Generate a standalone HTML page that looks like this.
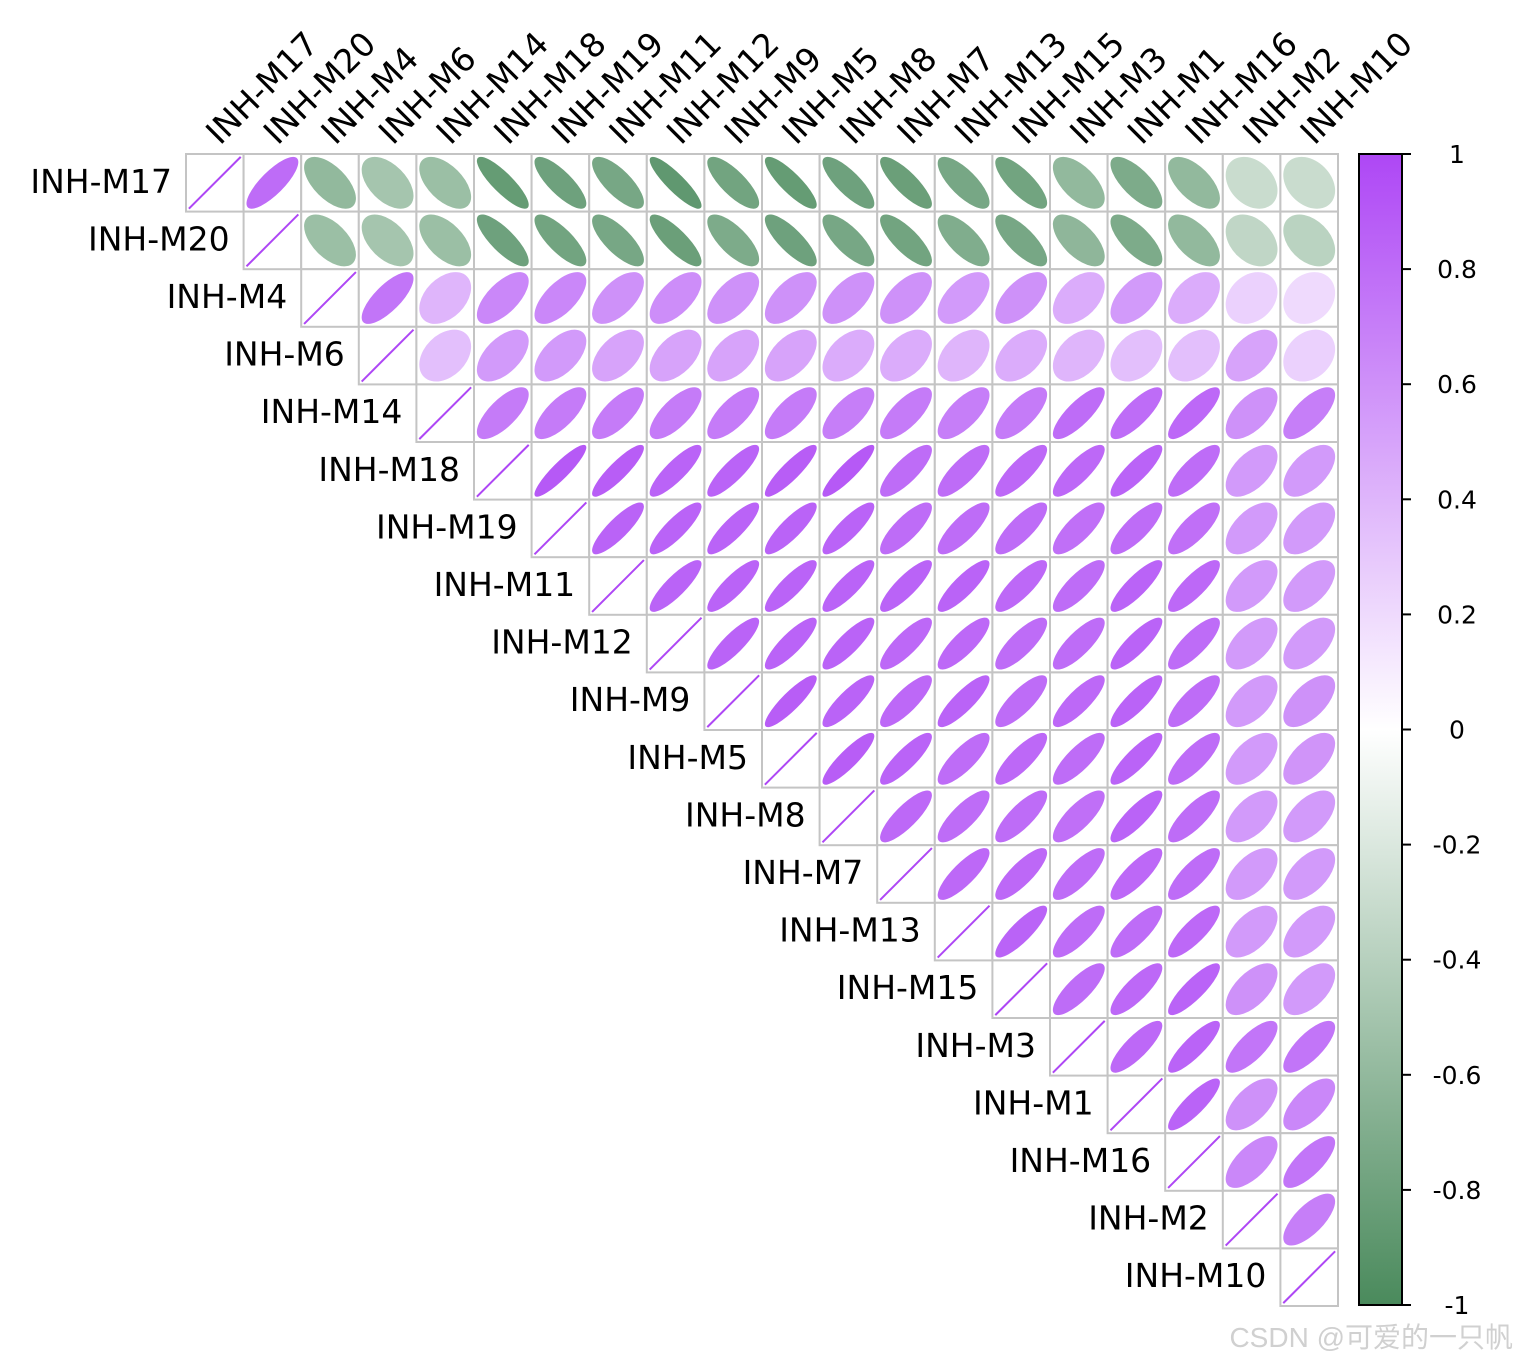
<!DOCTYPE html>
<html><head><meta charset="utf-8"><style>
html,body{margin:0;padding:0;background:#fff;}
svg{display:block;font-family:"DejaVu Sans","Liberation Sans","Noto Sans CJK SC",sans-serif;}
</style></head><body>
<svg id="chart" width="1518" height="1364" viewBox="0 0 1518 1364" xmlns="http://www.w3.org/2000/svg">
<rect width="1518" height="1364" fill="#fff"/>
<defs>
<linearGradient id="cbgrad" x1="0" y1="1" x2="0" y2="0">
<stop offset="0" stop-color="#4a8a5c"/>
<stop offset="0.5" stop-color="#ffffff"/>
<stop offset="1" stop-color="#ae47f5"/>
</linearGradient>
</defs>
<g id="cells"></g>
<g id="labels"></g>
<g id="colorbar"></g>
<text x="1513" y="1347" text-anchor="end" font-size="28" fill="#d0d0d0" font-family="'Liberation Sans','Noto Sans CJK SC',sans-serif">CSDN @可爱的一只帆</text>
</svg>
<script>
const labels = ["INH-M17","INH-M20","INH-M4","INH-M6","INH-M14","INH-M18","INH-M19","INH-M11","INH-M12","INH-M9","INH-M5","INH-M8","INH-M7","INH-M13","INH-M15","INH-M3","INH-M1","INH-M16","INH-M2","INH-M10"];
// upper-triangle rows (values from the diagonal+1 onwards)
const row0 = [0.8,-0.6,-0.5,-0.55,-0.85,-0.8,-0.75,-0.88,-0.78,-0.85,-0.8,-0.82,-0.75,-0.78,-0.6,-0.72,-0.6,-0.3,-0.3];
const row1 = [-0.55,-0.5,-0.55,-0.8,-0.78,-0.75,-0.82,-0.72,-0.8,-0.75,-0.78,-0.7,-0.75,-0.62,-0.72,-0.6,-0.35,-0.38];
const row2 = [0.75,0.4,0.65,0.65,0.6,0.62,0.6,0.6,0.6,0.6,0.55,0.6,0.45,0.55,0.45,0.25,0.2];
const row3 = [0.35,0.55,0.55,0.5,0.5,0.5,0.5,0.45,0.45,0.4,0.45,0.4,0.35,0.35,0.5,0.25];
const row4 = [0.72,0.72,0.72,0.72,0.72,0.72,0.7,0.72,0.7,0.72,0.8,0.8,0.82,0.6,0.7];
const row5 = [0.9,0.88,0.85,0.85,0.88,0.9,0.8,0.8,0.82,0.82,0.85,0.8,0.55,0.55];
const row6 = [0.85,0.85,0.85,0.85,0.85,0.8,0.8,0.8,0.78,0.8,0.78,0.55,0.55];
const row7 = [0.85,0.85,0.85,0.85,0.85,0.85,0.82,0.8,0.85,0.82,0.55,0.55];
const row8 = [0.85,0.85,0.85,0.82,0.82,0.8,0.8,0.85,0.8,0.55,0.55];
const row9 = [0.88,0.85,0.82,0.85,0.8,0.82,0.85,0.8,0.55,0.6];
const row10 = [0.88,0.85,0.8,0.82,0.8,0.85,0.8,0.55,0.58];
const row11 = [0.82,0.8,0.8,0.78,0.85,0.8,0.55,0.55];
const row12 = [0.82,0.82,0.8,0.82,0.8,0.55,0.55];
const row13 = [0.85,0.8,0.8,0.82,0.55,0.55];
const row14 = [0.8,0.82,0.85,0.6,0.55];
const row15 = [0.82,0.85,0.75,0.75];
const row16 = [0.85,0.6,0.65];
const row17 = [0.65,0.75];
const row18 = [0.7];
const rows = [row0,row1,row2,row3,row4,row5,row6,row7,row8,row9,row10,row11,row12,row13,row14,row15,row16,row17,row18,[]];
const cbTicks = [1,0.8,0.6,0.4,0.2,0,-0.2,-0.4,-0.6,-0.8,-1];

const NS = "http://www.w3.org/2000/svg";
const X0 = 186, Y0 = 154, N = labels.length, S = (1338 - 186) / N;
const xPos = j => X0 + j * S;
const yPos = i => Y0 + i * S;
const CB = {x: 1359, w: 43, top: 154, bot: 1305};
const cbY = v => CB.top + (1 - v) / 2 * (CB.bot - CB.top);

function mix(a, b, t) {
  return [0,1,2].map(k => Math.round(a[k] + (b[k] - a[k]) * t));
}
function color(r) {
  const g = [74,138,92], w = [255,255,255], p = [174,71,245];
  const c = r >= 0 ? mix(w, p, r) : mix(w, g, -r);
  return `rgb(${c[0]},${c[1]},${c[2]})`;
}
function mk(tag, attrs, parent) {
  const el = document.createElementNS(NS, tag);
  for (const k in attrs) el.setAttribute(k, attrs[k]);
  parent.appendChild(el);
  return el;
}
const cells = document.getElementById('cells');
const lab = document.getElementById('labels');
const cb = document.getElementById('colorbar');

for (let i = 0; i < N; i++) {
  for (let j = i; j < N; j++) {
    const x = xPos(j), y = yPos(i);
    const r = (j === i) ? 1 : rows[i][j - i - 1];
    const box = mk('rect', {x: x, y: y, width: S, height: S, fill: '#fff', stroke: '#c4c4c4', 'stroke-width': 2}, cells);
    
    
    const cx = x + S / 2, cy = y + S / 2;
    if (j === i) {
      const d = S * 0.45;
      const ln = mk('line', {x1: cx - d, y1: cy + d, x2: cx + d, y2: cy - d, stroke: color(1), 'stroke-width': 2}, cells);
      
      
    } else {
      const a = S * 0.45 * Math.sqrt(1 + Math.abs(r));
      const b = S * 0.45 * Math.sqrt(Math.max(0.0001, 1 - Math.abs(r)));
      const ang = r >= 0 ? -45 : 45;
      const el = mk('ellipse', {cx: cx, cy: cy, rx: a, ry: b, fill: color(r), transform: `rotate(${ang} ${cx} ${cy})`}, cells);
      
      
    }
  }
  // row label
  const t = mk('text', {x: xPos(i) - 14, y: yPos(i) + S / 2 + 10, 'text-anchor': 'end', 'font-size': 33, fill: '#000'}, lab);
  t.textContent = labels[i];
  
  
  // column label
  const lx = xPos(i) + 34, ly = 146;
  const c = mk('text', {x: lx, y: ly, 'font-size': 33, fill: '#000', transform: `rotate(-45 ${lx} ${ly})`}, lab);
  c.textContent = labels[i];
  
  
}

const bar = mk('rect', {x: CB.x, y: CB.top, width: CB.w, height: CB.bot - CB.top, fill: 'url(#cbgrad)', stroke: '#000', 'stroke-width': 2}, cb);


cbTicks.forEach(v => {
  const y = cbY(v);
  const tk = mk('line', {x1: CB.x + CB.w, x2: CB.x + CB.w + 9, y1: y, y2: y, stroke: '#000', 'stroke-width': 2}, cb);
  
  
  const tx = mk('text', {x: 1457, y: y + 9, 'text-anchor': 'middle', 'font-size': 25, fill: '#000'}, cb);
  tx.textContent = String(v);
  
  
});
</script>
</body></html>
